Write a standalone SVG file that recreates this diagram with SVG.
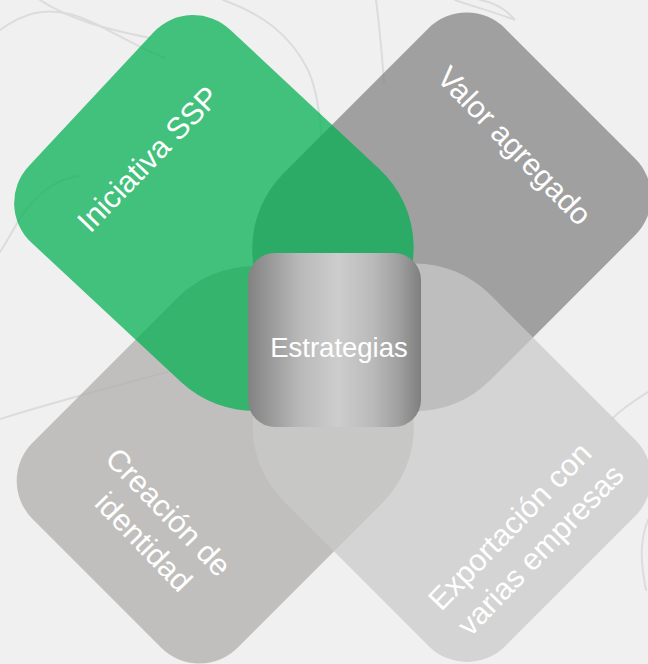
<svg xmlns="http://www.w3.org/2000/svg" width="648" height="664" viewBox="0 0 648 664">
  <defs>
    <linearGradient id="metal" x1="0" y1="0" x2="1" y2="0">
      <stop offset="0" stop-color="#828282"/>
      <stop offset="0.3" stop-color="#b9b9b9"/>
      <stop offset="0.52" stop-color="#cdcdcd"/>
      <stop offset="0.72" stop-color="#bababa"/>
      <stop offset="0.87" stop-color="#a0a0a0"/>
      <stop offset="1" stop-color="#7f7f7f"/>
    </linearGradient>
  </defs>
  <style>
    .sketch { fill: none; stroke: #dcdcdc; stroke-width: 2; stroke-linecap: round; }
    .petal { fill-opacity: 0.73; }
    .lbl { font-family: "Liberation Sans", Arial, sans-serif; font-size: 30.5px; fill: #ffffff; text-anchor: middle; }
    .center { font-family: "Liberation Sans", Arial, sans-serif; font-size: 27.5px; fill: #ffffff; text-anchor: middle; }
  </style>

  <rect width="648" height="664" fill="#f0f0f0"/>

  <g id="background-sketch">
    <path class="sketch" d="M0,30 C25,12 45,8 70,14 C100,22 130,45 165,58"/>
    <path class="sketch" d="M40,0 C70,20 110,30 150,38"/>
    <path class="sketch" d="M223,0 C262,14 290,34 308,70 C318,92 320,120 322,140"/>
    <path class="sketch" d="M376,0 C380,30 382,55 384,82"/>
    <path class="sketch" d="M455,0 C478,8 500,14 515,20 C505,8 492,2 480,0"/>
    <path class="sketch" d="M0,252 C8,240 14,228 22,215 C40,190 60,178 80,176"/>
    <path class="sketch" d="M0,419 C60,400 120,385 178,369"/>
    <path class="sketch" d="M648,392 C632,402 620,410 612,419"/>
    <path class="sketch" d="M648,520 C640,540 640,560 646,590"/>
  </g>

  <g id="node-valor">
    <path class="petal" fill="#828282" transform="rotate(135)" d="M-283,-615.5 H-78 A107,107 0 0 1 29,-508.5 V-430 A107,107 0 0 1 -78,-323 H-283 A54,54 0 0 1 -337,-377 V-561.5 A54,54 0 0 1 -283,-615.5 Z"/>
    <text class="lbl" transform="translate(514,146) rotate(46)" x="0" y="10">Valor agregado</text>
  </g>

  <g id="node-creacion">
    <path class="petal" fill="#aeadaa" transform="rotate(-45)" d="M-290,336 H-85 A107,107 0 0 1 22,443 V519 A107,107 0 0 1 -85,626 H-290 A54,54 0 0 1 -344,572 V390 A54,54 0 0 1 -290,336 Z"/>
    <text class="lbl" transform="translate(157,529) rotate(46)">
      <tspan x="0" y="-9.5">Creación de</tspan>
      <tspan x="0" y="29">identidad</tspan>
    </text>
  </g>

  <g id="node-exportacion">
    <path class="petal" fill="#cacaca" transform="rotate(225)" d="M-760.1,-153.7 H-555.1 A107,107 0 0 1 -448.1,-46.7 V31.3 A107,107 0 0 1 -555.1,138.3 H-760.1 A54,54 0 0 1 -814.1,84.3 V-99.7 A54,54 0 0 1 -760.1,-153.7 Z"/>
    <text class="lbl" transform="translate(527,537) rotate(-46)">
      <tspan x="0" y="-9.5">Exportación con</tspan>
      <tspan x="0" y="29">varias empresas</tspan>
    </text>
  </g>

  <g id="node-iniciativa">
    <path class="petal" fill="#00b050" transform="rotate(43)" d="M188.3,-135.2 H393 A107,107 0 0 1 500,-28.2 V49 A107,107 0 0 1 393,156 H188.3 A54,54 0 0 1 134.3,102 V-81.2 A54,54 0 0 1 188.3,-135.2 Z"/>
    <text class="lbl" transform="translate(148,159) rotate(-46)" x="0" y="10.5">Iniciativa SSP</text>
  </g>

  <g id="node-estrategias">
    <rect x="248" y="253" width="173" height="174" rx="27" ry="27" fill="url(#metal)"/>
    <text class="center" x="339" y="357">Estrategias</text>
  </g>
</svg>
